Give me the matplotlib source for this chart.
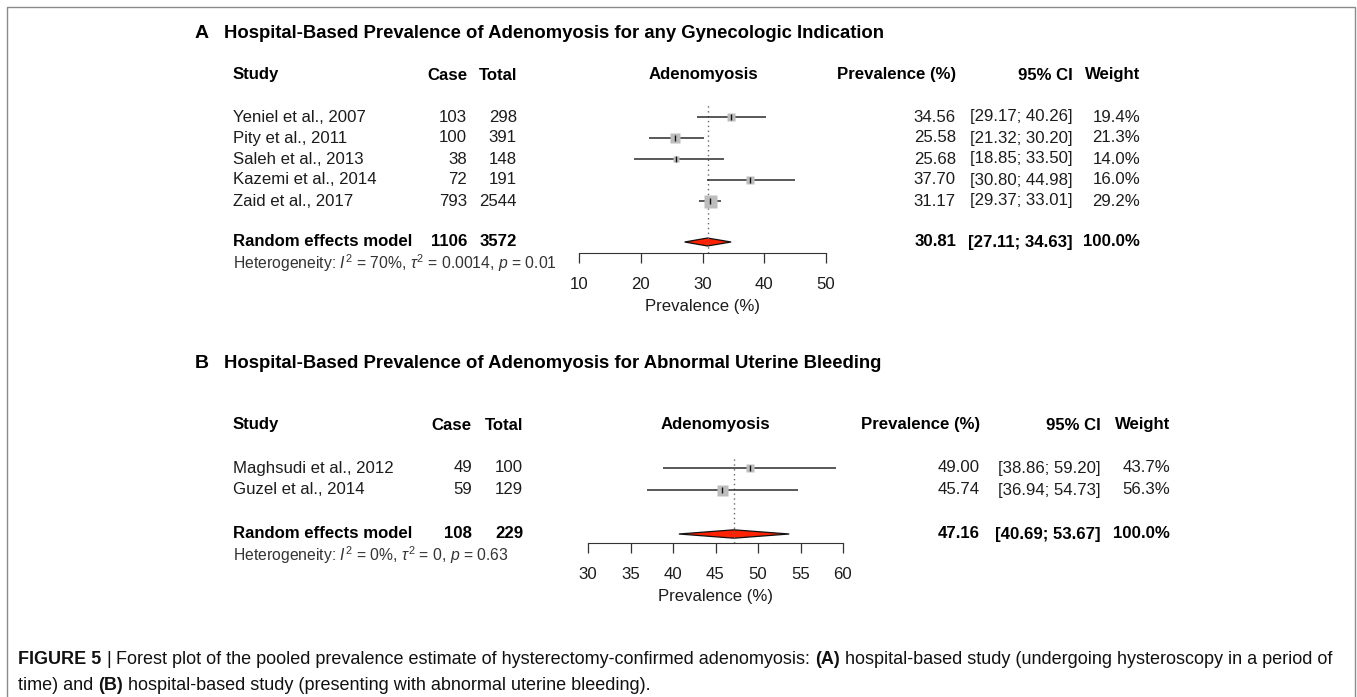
import numpy as np
import matplotlib
matplotlib.use('Agg')
import matplotlib.pyplot as plt
from matplotlib import font_manager
from matplotlib.patches import Polygon, Rectangle

# ---- data ----
studies_a = ['Yeniel et al., 2007', 'Pity et al., 2011', 'Saleh et al., 2013',
             'Kazemi et al., 2014', 'Zaid et al., 2017']
cases_a = [103, 100, 38, 72, 793]
totals_a = [298, 391, 148, 191, 2544]
prev_a = [34.56, 25.58, 25.68, 37.70, 31.17]
lo_a = [29.17, 21.32, 18.85, 30.80, 29.37]
hi_a = [40.26, 30.20, 33.50, 44.98, 33.01]
weight_a = [19.4, 21.3, 14.0, 16.0, 29.2]
pooled_a = [30.81, 27.11, 34.63]
sum_a = [1106, 3572]
het_a = r'Heterogeneity: $\mathit{I}^2$ = 70%, $\tau^2$ = 0.0014, $\mathit{p}$ = 0.01'
ticks_a = [10, 20, 30, 40, 50]

studies_b = ['Maghsudi et al., 2012', 'Guzel et al., 2014']
cases_b = [49, 59]
totals_b = [100, 129]
prev_b = [49.00, 45.74]
lo_b = [38.86, 36.94]
hi_b = [59.20, 54.73]
weight_b = [43.7, 56.3]
pooled_b = [47.16, 40.69, 53.67]
sum_b = [108, 229]
het_b = r'Heterogeneity: $\mathit{I}^2$ = 0%, $\tau^2$ = 0, $\mathit{p}$ = 0.63'
ticks_b = [30, 35, 40, 45, 50, 55, 60]

title_a = 'Hospital-Based Prevalence of Adenomyosis for any Gynecologic Indication'
title_b = 'Hospital-Based Prevalence of Adenomyosis for Abnormal Uterine Bleeding'

caption_1 = [('FIGURE 5', 'bold'), ('|', 'normal'),
             ('Forest plot of the pooled prevalence estimate of hysterectomy-confirmed adenomyosis:', 'normal'),
             ('(A)', 'bold'),
             ('hospital-based study (undergoing hysteroscopy in a period of', 'normal')]
caption_2 = [('time) and', 'normal'), ('(B)', 'bold'),
             ('hospital-based study (presenting with abnormal uterine bleeding).', 'normal')]

plt.rcParams['font.family'] = ['Liberation Sans', 'DejaVu Sans']
plt.rcParams['mathtext.fontset'] = 'custom'
plt.rcParams['mathtext.rm'] = 'Liberation Sans'
plt.rcParams['mathtext.it'] = 'Liberation Sans:italic'

W, H = 1357, 697
FS = 12.1
TXT = '#1c1c1c'

fig = plt.figure(figsize=(W / 100, H / 100), dpi=100)
ax = fig.add_axes([0, 0, 1, 1])
ax.set_xlim(0, W)
ax.set_ylim(H, 0)
ax.axis('off')
ax.add_patch(Rectangle((7, 7), 1348, 720, fill=False, edgecolor='#8a8a8a', lw=1, clip_on=False))


def panel(letter, title, y_title, y_head, y_row0, dy, y_sum, y_axis, y_top,
          cols, xpix, xlim, ticks, sq_max,
          studies, cases, totals, prev, lo, hi, weight, pooled, summ, het):
    ax.text(195, y_title, letter, fontsize=14, fontweight='bold', va='center', color='k')
    ax.text(224, y_title, title, fontsize=13.3, fontweight='bold', va='center', color='k')

    c_case, c_tot, c_adeno, c_prev, c_ci, c_w = cols
    hk = dict(fontsize=FS, fontweight='bold', va='center', color='k')
    ax.text(233, y_head, 'Study', ha='left', **hk)
    ax.text(c_case, y_head, 'Case', ha='right', **hk)
    ax.text(c_tot, y_head, 'Total', ha='right', **hk)
    ax.text(c_adeno, y_head, 'Adenomyosis', ha='center', **hk)
    ax.text(c_prev, y_head, 'Prevalence (%)', ha='right', **hk)
    ax.text(c_ci, y_head, '95% CI', ha='right', **hk)
    ax.text(c_w, y_head, 'Weight', ha='right', **hk)

    rk = dict(fontsize=FS, va='center', color=TXT)
    for i in range(len(studies)):
        y = y_row0 + i * dy
        ax.text(233, y, studies[i], ha='left', **rk)
        ax.text(c_case, y, str(cases[i]), ha='right', **rk)
        ax.text(c_tot, y, str(totals[i]), ha='right', **rk)
        ax.text(c_prev, y, '%.2f' % prev[i], ha='right', **rk)
        ax.text(c_ci, y, '[%.2f; %.2f]' % (lo[i], hi[i]), ha='right', **rk)
        ax.text(c_w, y, '%.1f%%' % weight[i], ha='right', **rk)

    ax.text(233, y_sum, 'Random effects model', ha='left', **hk)
    ax.text(c_case, y_sum, str(summ[0]), ha='right', **hk)
    ax.text(c_tot, y_sum, str(summ[1]), ha='right', **hk)
    ax.text(c_prev, y_sum, '%.2f' % pooled[0], ha='right', **hk)
    ax.text(c_ci, y_sum, '[%.2f; %.2f]' % (pooled[1], pooled[2]), ha='right', **hk)
    ax.text(c_w, y_sum, '100.0%', ha='right', **hk)
    ax.text(233, y_sum + 21, het, ha='left', va='center', fontsize=11.3, color='#333333')

    # forest part: real axes, x in prevalence, y in row units
    row = lambda yp: (yp - y_row0) / dy
    x0, x1 = xpix
    fa = fig.add_axes([x0 / W, 1 - y_axis / H, (x1 - x0) / W, (y_axis - y_top) / H])
    fa.set_facecolor('none')
    fa.set_xlim(*xlim)
    fa.set_ylim(row(y_axis), row(y_top))
    for s in ['top', 'left', 'right']:
        fa.spines[s].set_visible(False)
    fa.spines['bottom'].set_bounds(ticks[0], ticks[-1])
    fa.spines['bottom'].set_color('#333333')
    fa.set_yticks([])
    fa.set_xticks(ticks)
    fa.tick_params(axis='x', direction='out', length=7.2, width=0.9, colors='#333333',
                   labelsize=FS, labelcolor=TXT, pad=10)

    fa.axvline(pooled[0], color='#666666', ls=(0, (1, 2.5)), lw=1)
    wmax = max(weight)
    for i in range(len(studies)):
        fa.plot([lo[i], hi[i]], [i, i], color='#2b2b2b', lw=1.1, solid_capstyle='butt')
        fa.plot(prev[i], i, marker='s', ms=sq_max * 0.72 * weight[i] / wmax,
                color='#bdbdbd', mec='none', ls='none')
        fa.plot(prev[i], i, marker='|', ms=4, mew=1, color='#111111', ls='none')
    ys = row(y_sum)
    fa.add_patch(Polygon([(pooled[1], ys), (pooled[0], ys - 0.19), (pooled[2], ys),
                          (pooled[0], ys + 0.19)], closed=True, facecolor='#ff2200',
                         edgecolor='#111111', lw=0.9))
    ax.text((x0 + x1) / 2, y_axis + 53, 'Prevalence (%)', ha='center', va='center',
            fontsize=FS, color=TXT)


panel('A', title_a, 33, 75, 117, 21, 242, 253, 105,
      [467, 517, 703, 956, 1073, 1140], (579, 826), (10, 50), ticks_a, 13,
      studies_a, cases_a, totals_a, prev_a, lo_a, hi_a, weight_a, pooled_a, sum_a, het_a)

panel('B', title_b, 363, 425, 468, 22, 534, 543, 457,
      [472, 523, 715, 980, 1101, 1170], (588, 843), (30, 60), ticks_b, 11,
      studies_b, cases_b, totals_b, prev_b, lo_b, hi_b, weight_b, pooled_b, sum_b, het_b)

# ---- caption, set run by run ----
names = {f.name for f in font_manager.fontManager.ttflist}
cap_font = 'Liberation Sans Narrow' if 'Liberation Sans Narrow' in names else 'Liberation Sans'
renderer = fig.canvas.get_renderer()


def width_of(s, size, weight):
    t = ax.text(0, 0, s, fontsize=size, fontweight=weight, family=cap_font)
    w = t.get_window_extent(renderer).width
    t.remove()
    return w


def line_width(runs, size):
    gap = width_of('a a', size, 'normal') - width_of('aa', size, 'normal')
    return sum(width_of(s, size, w) for s, w in runs) + gap * (len(runs) - 1), gap


cap_size = 10 * 1322 / line_width(caption_1, 10)[0]
for runs, yc in [(caption_1, 660), (caption_2, 685)]:
    gap = line_width(runs, cap_size)[1]
    x = 18
    for s, w in runs:
        ax.text(x, yc, s, fontsize=cap_size, fontweight=w, family=cap_font,
                va='center', ha='left', color='#111111')
        x += width_of(s, cap_size, w) + gap

fig.savefig('out.png', dpi=100)
